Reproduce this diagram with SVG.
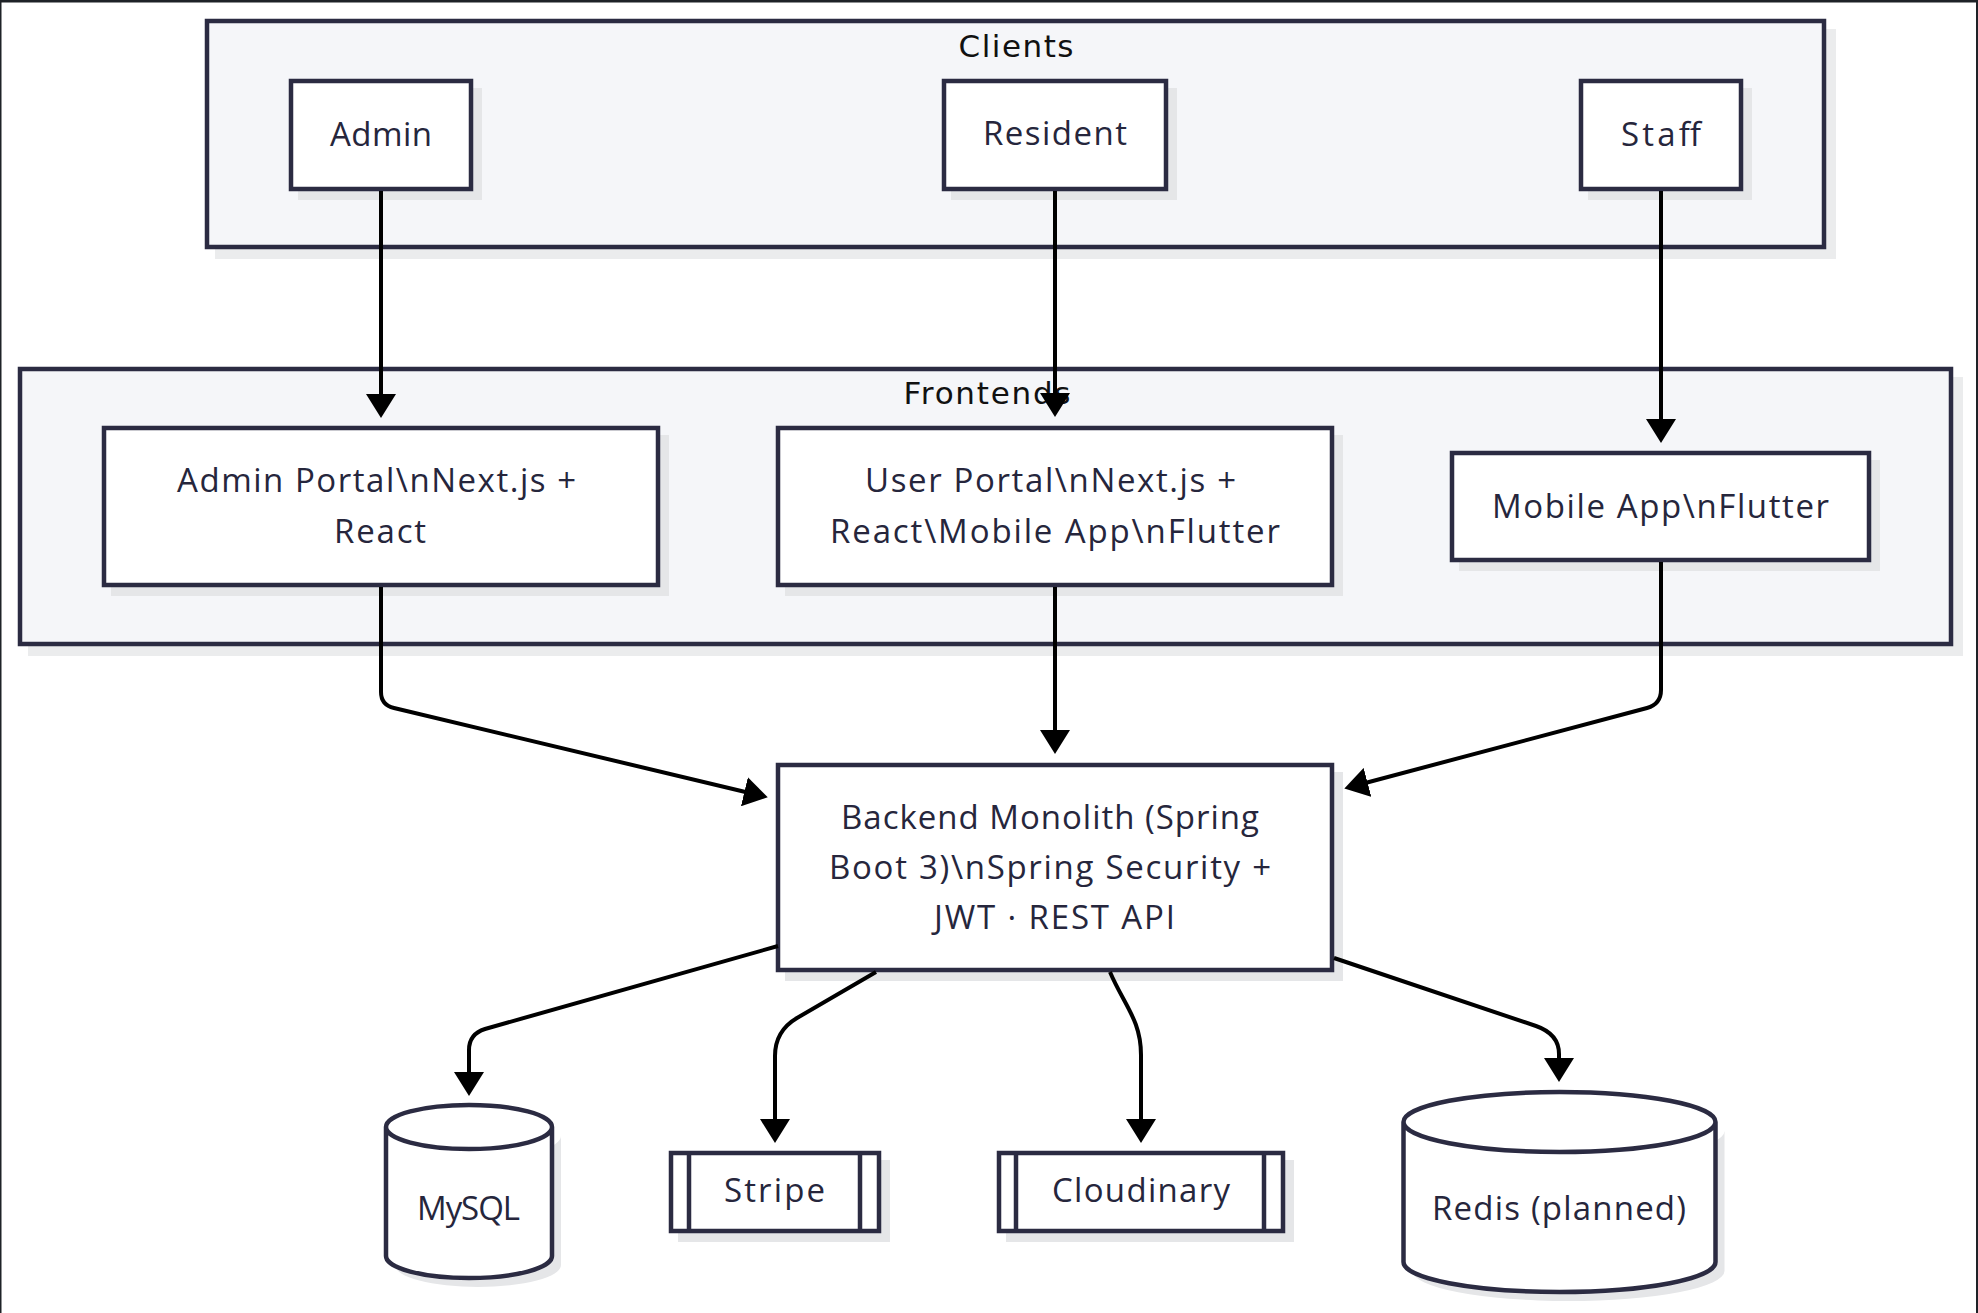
<svg xmlns="http://www.w3.org/2000/svg" width="1978" height="1313" viewBox="0 0 1978 1313">
<style>
.frame{fill:#1e2227}
.cluster{fill:#f5f6f9;stroke:#2b2b42;stroke-width:4.5}
.cshadow{fill:#ebeced}
.nshadow{fill:#e5e6e8}
.node{fill:#ffffff;stroke:#2b2b42;stroke-width:4.5}
.inner{fill:none;stroke:#2b2b42;stroke-width:4.5}
.clabel{font-family:"DejaVu Sans",sans-serif;font-size:31px;fill:#111111;text-anchor:middle}
.ntext{font-family:"Open Sans","Liberation Sans",sans-serif;font-size:33px;fill:#26263c;text-anchor:middle}
.edge{fill:none;stroke:#000000;stroke-width:4}
</style>
<defs>
<marker id="arrow" viewBox="0 0 24 30" refX="14" refY="15" markerWidth="24" markerHeight="30" markerUnits="userSpaceOnUse" orient="auto">
<path d="M0,0 L24,15 L0,30 z" fill="#000000"/>
</marker>
</defs>
<rect x="0" y="0" width="1978" height="1313" fill="#ffffff"/>
<rect class="frame" x="0" y="0" width="1978" height="2.5"/>
<rect class="frame" x="0" y="0" width="1.5" height="1313"/>
<rect class="frame" x="1976" y="0" width="2" height="1313"/>

<g id="cluster-clients">
<rect class="cshadow" x="215" y="29" width="1621" height="230"/>
<rect class="cluster" x="207" y="21" width="1617" height="226"/>
<text class="clabel" x="1016" y="57" textLength="115">Clients</text>
</g>
<g id="cluster-frontends">
<rect class="cshadow" x="28" y="377" width="1935" height="279"/>
<rect class="cluster" x="20" y="369" width="1931" height="275"/>
<text class="clabel" x="987" y="404" textLength="167">Frontends</text>
</g>

<g id="node-admin">
<rect class="nshadow" x="298" y="88" width="184" height="112"/>
<rect class="node" x="291" y="81" width="180" height="108"/>
<text class="ntext" x="381" y="146" textLength="102">Admin</text>
</g>
<g id="node-resident">
<rect class="nshadow" x="951" y="88" width="226" height="112"/>
<rect class="node" x="944" y="81" width="222" height="108"/>
<text class="ntext" x="1055" y="145" textLength="144">Resident</text>
</g>
<g id="node-staff">
<rect class="nshadow" x="1588" y="88" width="164" height="112"/>
<rect class="node" x="1581" y="81" width="160" height="108"/>
<text class="ntext" x="1661" y="146" textLength="80">Staff</text>
</g>

<g id="node-admin-portal">
<rect class="nshadow" x="111" y="435" width="558" height="161"/>
<rect class="node" x="104" y="428" width="554" height="157"/>
<text class="ntext" x="376.5" y="492" textLength="399">Admin Portal\nNext.js +</text>
<text class="ntext" x="380" y="543" textLength="92">React</text>
</g>
<g id="node-user-portal">
<rect class="nshadow" x="785" y="435" width="558" height="161"/>
<rect class="node" x="778" y="428" width="554" height="157"/>
<text class="ntext" x="1050.5" y="492" textLength="371">User Portal\nNext.js +</text>
<text class="ntext" x="1055" y="543" textLength="450">React\Mobile App\nFlutter</text>
</g>
<g id="node-mobile-app">
<rect class="nshadow" x="1459" y="460" width="421" height="111"/>
<rect class="node" x="1452" y="453" width="417" height="107"/>
<text class="ntext" x="1660.5" y="518" textLength="337">Mobile App\nFlutter</text>
</g>

<g id="node-backend">
<rect class="nshadow" x="785" y="772" width="558" height="209"/>
<rect class="node" x="778" y="765" width="554" height="205"/>
<text class="ntext" x="1050" y="829" textLength="418">Backend Monolith (Spring</text>
<text class="ntext" x="1050" y="879" textLength="442">Boot 3)\nSpring Security +</text>
<text class="ntext" x="1054.5" y="929" textLength="241">JWT · REST API</text>
</g>

<g id="node-mysql">
<path class="nshadow" d="M395,1136 a83,22 0 0,0 166,0 l0,129 a83,22 0 0,1 -166,0 z"/>
<path class="node" d="M386,1127 a83,22 0 0,0 166,0 a83,22 0 0,0 -166,0 l0,129 a83,22 0 0,0 166,0 l0,-129"/>
<text class="ntext" x="468.5" y="1220" textLength="103">MySQL</text>
</g>
<g id="node-stripe">
<rect class="nshadow" x="678" y="1160" width="212" height="82"/>
<rect class="node" x="671" y="1153" width="208" height="78"/>
<line class="inner" x1="689" y1="1153" x2="689" y2="1231"/>
<line class="inner" x1="860" y1="1153" x2="860" y2="1231"/>
<text class="ntext" x="774.5" y="1202" textLength="101">Stripe</text>
</g>
<g id="node-cloudinary">
<rect class="nshadow" x="1006" y="1160" width="288" height="82"/>
<rect class="node" x="999" y="1153" width="284" height="78"/>
<line class="inner" x1="1016" y1="1153" x2="1016" y2="1231"/>
<line class="inner" x1="1264" y1="1153" x2="1264" y2="1231"/>
<text class="ntext" x="1141" y="1202" textLength="178">Cloudinary</text>
</g>
<g id="node-redis">
<path class="nshadow" d="M1412.5,1131 a156,30 0 0,0 312,0 l0,140 a156,30 0 0,1 -312,0 z"/>
<path class="node" d="M1403.5,1122 a156,30 0 0,0 312,0 a156,30 0 0,0 -312,0 l0,140 a156,30 0 0,0 312,0 l0,-140"/>
<text class="ntext" x="1559" y="1220" textLength="254">Redis (planned)</text>
</g>

<g id="connectors">
<path class="edge" marker-end="url(#arrow)" d="M381,191 L381,408"/>
<path class="edge" marker-end="url(#arrow)" d="M1055,191 L1055,407"/>
<path class="edge" marker-end="url(#arrow)" d="M1661,191 L1661,433"/>
<path class="edge" marker-end="url(#arrow)" d="M381,587 L381,692 Q381,705 394,708 L758,795"/>
<path class="edge" marker-end="url(#arrow)" d="M1055,587 L1055,744"/>
<path class="edge" marker-end="url(#arrow)" d="M1661,562 L1661,690 Q1661,704 1647,708 L1354,786"/>
<path class="edge" marker-end="url(#arrow)" d="M778,946 L485,1029 Q469,1034 469,1050 L469,1086"/>
<path class="edge" marker-end="url(#arrow)" d="M876,972 L797,1018 Q775,1031 775,1056 L775,1133"/>
<path class="edge" marker-end="url(#arrow)" d="M1110,972 C1124,1005 1141,1020 1141,1055 L1141,1133"/>
<path class="edge" marker-end="url(#arrow)" d="M1334,958 L1536,1026 Q1559,1034 1559,1054 L1559,1072"/>
</g>
</svg>
